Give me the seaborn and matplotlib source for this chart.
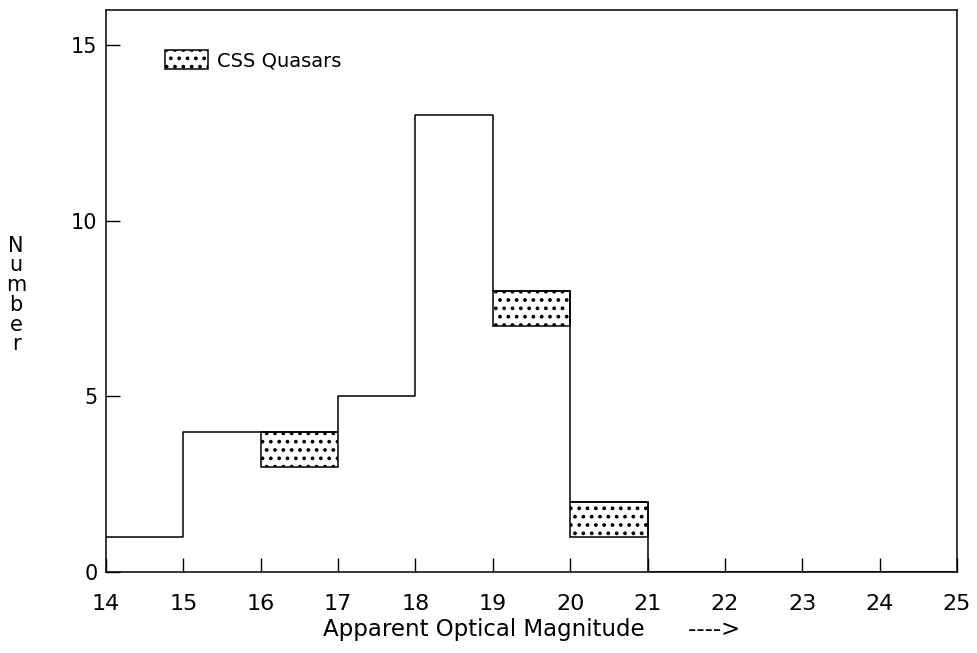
import numpy as np
import pandas as pd
import matplotlib
matplotlib.use("Agg")
import matplotlib.pyplot as plt
import seaborn as sns
from matplotlib.patches import Patch

bin_edges = [14, 15, 16, 17, 18, 19, 20, 21, 22, 23, 24, 25]
total_counts = [1, 4, 4, 5, 13, 8, 2, 0, 0, 0, 0]
css_counts = [0, 0, 1, 0, 0, 1, 1, 0, 0, 0, 0]
x_ticks = [14, 15, 16, 17, 18, 19, 20, 21, 22, 23, 24, 25]
y_ticks = [0, 5, 10, 15]

sns.set_theme(style="ticks")
plt.rcParams['font.family'] = ['DejaVu Sans']
plt.rcParams['hatch.linewidth'] = 1.5
plt.rcParams['text.color'] = 'black'

centers = [(a + b) / 2 for a, b in zip(bin_edges[:-1], bin_edges[1:])]
df = pd.DataFrame({"mag": centers, "n": total_counts, "css": css_counts})

fig = plt.figure(figsize=(9.77, 6.53), dpi=100)
ax = fig.add_axes([106/977, 81/653, (957-106)/977, (572-10)/653])

sns.histplot(data=df, x="mag", weights="n", bins=bin_edges, element="step",
             fill=False, color="black", linewidth=1.1, ax=ax)

lefts = [e for e, c in zip(bin_edges[:-1], css_counts) if c > 0]
tops = [t for t, c in zip(total_counts, css_counts) if c > 0]
hts = [c for c in css_counts if c > 0]
bottoms = [t - h for t, h in zip(tops, hts)]
ax.bar(lefts, hts, bottom=bottoms, width=1.0, align="edge",
       facecolor="white", edgecolor="black", hatch="..", linewidth=1.1)

ax.set_xlim(14, 25)
ax.set_ylim(0, 16)
ax.set_xticks(x_ticks)
ax.set_yticks(y_ticks)
ax.tick_params(direction="in", length=10, width=1, colors="black",
               top=False, right=False)
ax.tick_params(axis="x", pad=16, labelsize=16)
ax.tick_params(axis="y", pad=6, labelsize=15)
for s in ax.spines.values():
    s.set_visible(True)
    s.set_color("black")
    s.set_linewidth(1.1)

ax.set_xlabel("Apparent Optical Magnitude      ---->", fontsize=16.5, labelpad=3,
              color="black")
ax.set_ylabel("")
fig.text(16/977, 1 - 295/653, "N\nu\nm\nb\ne\nr", ha="center", va="center",
         fontsize=15, linespacing=0.98, color="black")

handle = Patch(facecolor="white", edgecolor="black", hatch="..", linewidth=1.1)
ax.legend([handle], ["CSS Quasars"], loc="center left",
          bbox_to_anchor=((165 - 106) / 851, (572 - 60) / 562),
          frameon=False, fontsize=14, handlelength=2.2, handleheight=1.15,
          handletextpad=0.45, borderpad=0, borderaxespad=0, labelcolor="black")

fig.savefig("out.png", dpi=100, facecolor="white")
